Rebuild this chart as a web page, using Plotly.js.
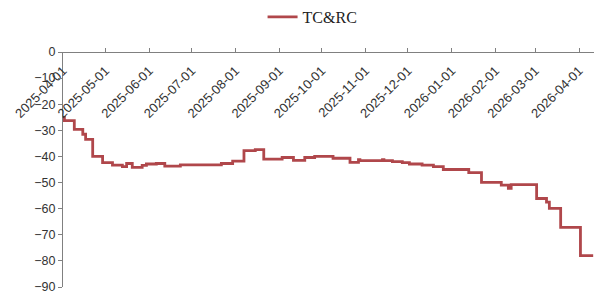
<!DOCTYPE html>
<html>
<head>
<meta charset="utf-8">
<script src="https://cdn.plot.ly/plotly-3.0.1.min.js"></script>
<style>html,body{margin:0;padding:0;background:#fff;}#chart{width:594px;height:293px;}</style>
</head>
<body>
<div id="chart"></div>
<script>
var seriesName = 'TC&RC';
var dates = [
  '2025-04-01','2025-04-02','2025-04-09','2025-04-15','2025-04-17','2025-04-22','2025-04-29',
  '2025-05-06','2025-05-13','2025-05-16','2025-05-20','2025-05-27','2025-05-30','2025-06-06',
  '2025-06-12','2025-06-23','2025-07-22','2025-07-30','2025-08-07','2025-08-15','2025-08-21',
  '2025-09-03','2025-09-11','2025-09-19','2025-09-26','2025-10-09','2025-10-21','2025-10-27',
  '2025-10-28','2025-11-13','2025-11-14','2025-11-20','2025-11-27','2025-12-02','2025-12-11',
  '2025-12-19','2025-12-26','2026-01-13','2026-01-22','2026-02-05','2026-02-10','2026-02-12',
  '2026-03-02','2026-03-09','2026-03-11','2026-03-19','2026-04-02','2026-04-11'
];
var values = [
  -25.0,-26.3,-29.6,-31.5,-33.5,-40.0,-42.4,
  -43.3,-43.9,-42.7,-44.2,-43.4,-42.9,-42.7,
  -43.7,-43.2,-42.7,-41.8,-37.8,-37.4,-41.0,
  -40.4,-41.5,-40.4,-40.0,-40.7,-42.3,-41.2,
  -41.6,-41.2,-41.6,-42.0,-42.4,-42.9,-43.3,
  -43.9,-45.0,-46.2,-49.9,-51.0,-52.2,-50.8,
  -56.1,-57.5,-59.9,-67.2,-78.0,-78.0
];
var yTicks = [0,-10,-20,-30,-40,-50,-60,-70,-80,-90];

var trace = {
  x: dates, y: values, type: 'scatter', mode: 'lines', name: seriesName,
  line: {color: '#b0474b', width: 2.8, shape: 'hv'}
};
var layout = {
  width: 594, height: 293,
  margin: {l: 63, r: 0, t: 52, b: 6},
  paper_bgcolor: '#fff', plot_bgcolor: '#fff',
  font: {family: 'Liberation Sans, Arial, sans-serif', size: 12, color: '#333333'},
  showlegend: true,
  legend: {orientation: 'h', x: 0.47, xanchor: 'center', y: 1.15, yanchor: 'middle',
           font: {family: 'Liberation Serif, Times New Roman, serif', size: 16, color: '#222222'},
           bgcolor: 'rgba(0,0,0,0)'},
  xaxis: {
    type: 'date', range: ['2025-04-01', '2026-04-11 14:00'],
    anchor: 'free', position: 1, side: 'bottom',
    tick0: '2025-04-01', dtick: 'M1', tickformat: '%Y-%m-%d', tickangle: -45,
    ticks: 'inside', ticklen: 4, tickcolor: '#808080', ticklabelstandoff: 5,
    ticklabeloverflow: 'allow',
    showline: true, linecolor: '#808080', linewidth: 1,
    showgrid: false, zeroline: false, automargin: false,
    tickfont: {size: 13, color: '#333333'}
  },
  yaxis: {
    range: [-90, 0], tickvals: yTicks, ticks: 'outside', ticklen: 4, tickcolor: '#808080',
    ticklabeloverflow: 'allow',
    showline: true, linecolor: '#808080', linewidth: 1,
    showgrid: false, zeroline: false, automargin: false,
    tickfont: {size: 12.5, color: '#333333'}
  }
};
Plotly.newPlot('chart', [trace], layout, {displayModeBar: false, staticPlot: true});
</script>
</body>
</html>
